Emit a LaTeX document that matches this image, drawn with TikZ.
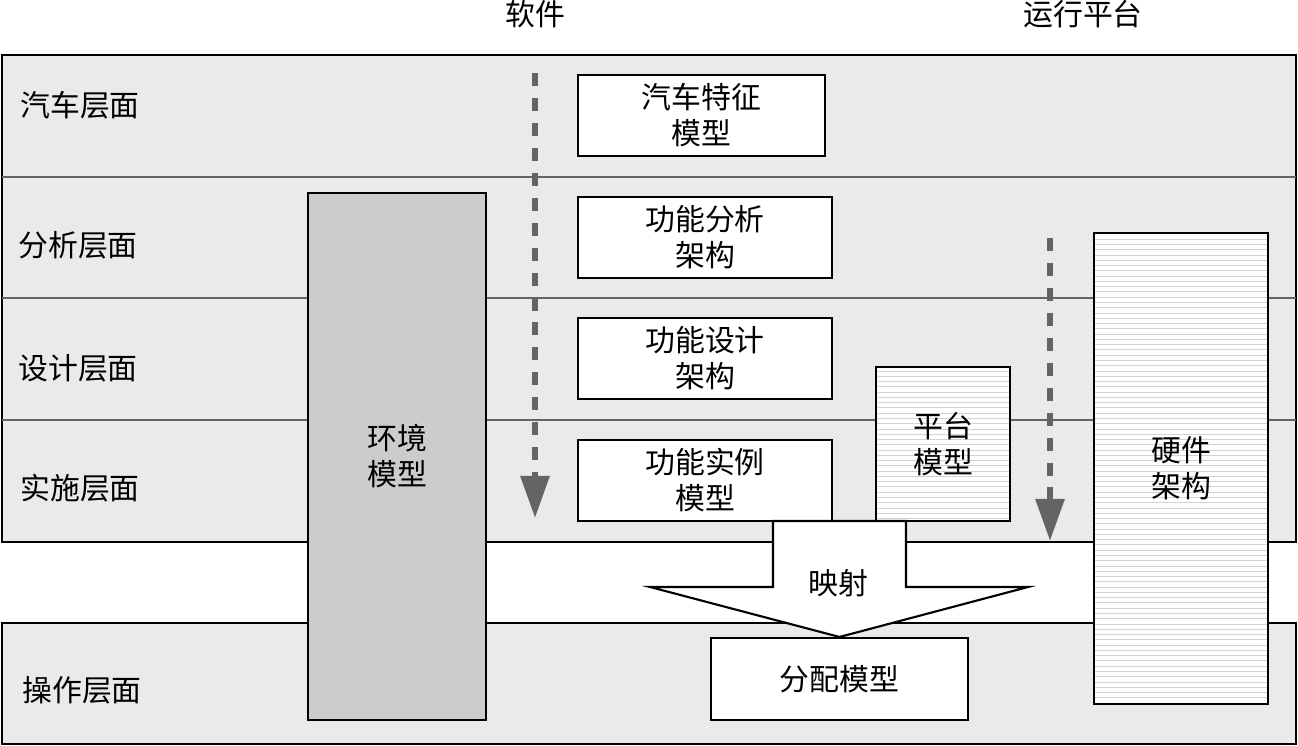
\documentclass[tikz,border=0pt]{standalone}
\usepackage{fontspec}
\setmainfont{Noto Sans CJK SC}
\usetikzlibrary{arrows.meta,patterns,positioning}
\definecolor{bandgray}{RGB}{234,234,234}
\definecolor{envgray}{RGB}{204,204,204}
\definecolor{linegray}{RGB}{100,100,100}

\tikzset{
  cjktext/.style={font=\fontsize{17}{20.5}\selectfont, align=center},
  band/.style={draw=black, line width=1.4pt, fill=bandgray},
  layerline/.style={draw=linegray, line width=1.4pt},
  layerlbl/.style={cjktext, anchor=west, inner sep=0pt},
  whitebox/.style={draw=black, line width=1.2pt, fill=white, cjktext, inner sep=0pt},
  envbox/.style={draw=black, line width=1.2pt, fill=envgray, cjktext, inner sep=0pt},
  hatchbox/.style={draw=black, line width=1.2pt, preaction={fill=white},
    pattern=horizontal lines, pattern color=gray!35, cjktext, inner sep=0pt},
  flowarrow/.style={draw=linegray, line width=3.4pt, dash pattern=on 7.4pt off 6.8pt,
    -{Triangle[length=24pt,width=16pt]}},
  bigarrow/.style={draw=black, line width=1.2pt, fill=white, line join=miter}
}

\begin{document}
\begin{tikzpicture}[x=0.02cm, y=-0.02cm]
  \useasboundingbox (0,0) rectangle (1298,746);

  % layer bands
  \draw[band] (2,55) rectangle (1296,542);
  \draw[band] (2,623) rectangle (1296,744);
  \draw[layerline] (2,177) -- (1296,177);
  \draw[layerline] (2,298) -- (1296,298);
  \draw[layerline] (2,420) -- (1296,420);

  % column titles
  \node[cjktext] (swtitle) at (535,14) {软件};
  \node[cjktext] (pftitle) at (1083,14) {运行平台};

  % layer names
  \node[layerlbl] (lblcar) at (20,105) {汽车层面};
  \node[layerlbl] (lblana) at (18,245) {分析层面};
  \node[layerlbl] (lbldes) at (18,368) {设计层面};
  \node[layerlbl] (lblimp) at (20,488) {实施层面};
  \node[layerlbl] (lblop) at (22,690) {操作层面};

  % models
  \node[envbox, minimum width=3.56cm, minimum height=10.54cm] (env) at (397,456.5) {环境\\模型};
  \node[whitebox, minimum width=4.94cm, minimum height=1.62cm] (carfeat) at (701.5,115.5) {汽车特征\\模型};
  \node[whitebox, minimum width=5.08cm, minimum height=1.62cm] (funcana) at (705,237.5) {功能分析\\架构};
  \node[whitebox, minimum width=5.08cm, minimum height=1.62cm] (funcdes) at (705,358.5) {功能设计\\架构};
  \node[whitebox, minimum width=5.08cm, minimum height=1.62cm] (funcinst) at (705,480.5) {功能实例\\模型};
  \node[hatchbox, minimum width=2.68cm, minimum height=3.08cm] (platform) at (943,444) {平台\\模型};
  \node[hatchbox, minimum width=3.48cm, minimum height=9.42cm] (hwarch) at (1181,468.5) {硬件\\架构};
  \node[whitebox, minimum width=5.14cm, minimum height=1.64cm] (alloc) at (839.5,679) {分配模型};

  % flow arrows
  \coordinate (swtop) at (535,73);
  \coordinate (swend) at (535,518);
  \coordinate (pftop) at (1050,238);
  \coordinate (pfend) at (1050,541);
  \draw[flowarrow] (swtop) -- (swend);
  \draw[flowarrow] (pftop) -- (pfend);

  % mapping arrow
  \draw[bigarrow] (773,521) -- (773,587) -- (650,587) -- (alloc.north)
    -- (1028,587) -- (906,587) -- (906,521) -- cycle;
  \node[cjktext] (maplbl) at (838,583) {映射};
\end{tikzpicture}
\end{document}
